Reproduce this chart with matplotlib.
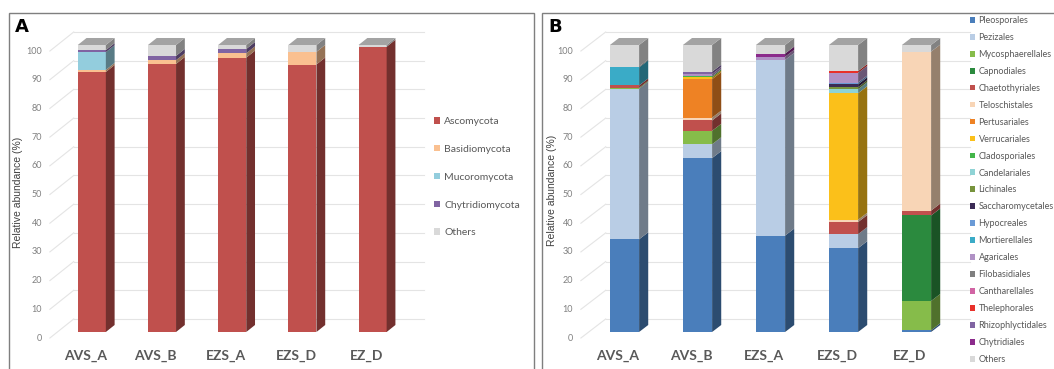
import numpy as np
import matplotlib.pyplot as plt
from matplotlib.patches import Polygon, Rectangle, Patch
from matplotlib.colors import to_rgb

samples = ['AVS_A', 'AVS_B', 'EZS_A', 'EZS_D', 'EZ_D']

# panel A - phylum level
phyla = ['Ascomycota', 'Basidiomycota', 'Mucoromycota', 'Chytridiomycota', 'Others']
ascomycota = [90.6, 93.4, 95.6, 93.2, 99.4]
basidiomycota = [0.7, 1.3, 1.5, 4.4, 0.0]
mucoromycota = [6.2, 0.0, 0.0, 0.0, 0.0]
chytridiomycota = [0.7, 1.5, 1.5, 0.0, 0.0]
others_a = [1.8, 3.8, 1.4, 2.4, 0.6]
phyla_colors = ['#c0504d', '#fac090', '#93cddd', '#8064a2', '#d9d9d9']

# panel B - order level
orders = ['Pleosporales', 'Pezizales', 'Mycosphaerellales', 'Capnodiales', 'Chaetothyriales',
          'Teloschistales', 'Pertusariales', 'Verrucariales', 'Cladosporiales', 'Candelariales',
          'Lichinales', 'Saccharomycetales', 'Hypocreales', 'Mortierellales', 'Agaricales',
          'Filobasidiales', 'Cantharellales', 'Thelephorales', 'Rhizophlyctidales', 'Chytridiales',
          'Others']
pleosporales = [32.3, 60.6, 33.6, 29.2, 0.6]
pezizales = [52.5, 4.8, 61.2, 4.9, 0.0]
mycosphaerellales = [0.3, 4.7, 0.0, 0.0, 10.2]
capnodiales = [0.0, 0.0, 0.0, 0.0, 29.8]
chaetothyriales = [0.8, 3.6, 0.0, 4.2, 1.7]
teloschistales = [0.0, 1.0, 0.0, 0.8, 55.4]
pertusariales = [0.0, 13.4, 0.0, 0.0, 0.0]
verrucariales = [0.0, 0.6, 0.0, 44.1, 0.0]
cladosporiales = [0.0, 0.4, 0.0, 0.0, 0.0]
candelariales = [0.0, 0.0, 0.0, 1.4, 0.0]
lichinales = [0.0, 0.0, 0.0, 0.7, 0.0]
saccharomycetales = [0.0, 0.0, 0.0, 1.0, 0.0]
hypocreales = [0.0, 0.0, 0.0, 0.6, 0.0]
mortierellales = [6.3, 0.0, 0.0, 0.0, 0.0]
agaricales = [0.0, 0.8, 1.1, 3.4, 0.0]
filobasidiales = [0.3, 0.0, 0.0, 0.0, 0.0]
cantharellales = [0.0, 0.0, 0.0, 0.0, 0.0]
thelephorales = [0.0, 0.0, 0.0, 0.6, 0.0]
rhizophlyctidales = [0.0, 0.8, 0.0, 0.0, 0.0]
chytridiales = [0.0, 0.0, 1.1, 0.0, 0.0]
others_b = [7.5, 9.3, 3.0, 9.1, 2.3]
order_colors = ['#4a7ebb', '#b9cde5', '#86bc4a', '#2b8a3e', '#c0504d',
                '#f8d5b6', '#ee8224', '#fbc01a', '#43b649', '#8fd3d5',
                '#77933c', '#3b2a55', '#6a9ad6', '#3aabc7', '#b091c5',
                '#7f7f7f', '#d164a4', '#e8312a', '#8064a2', '#8b2a8b',
                '#d9d9d9']

W, H = 1054, 369
fig = plt.figure(figsize=(W / 100, H / 100), dpi=100)

# fake 3D geometry (category / percent units)
kx, ky = 0.125, 2.44
bar_w = 0.40
x_left0 = -0.49
d_front, d_back = -0.86, 1.86
x_right_back = 4.73
xlim = (-1.2, 4.9)
ylim = (-12, 106)
px_per_pct = 2.87
y0_px = 332


def dark(c, f=0.6):
    r, g, b = to_rgb(c)
    return (r * f, g * f, b * f)


def draw_panel(x0_px, px_per_cat, series, colors, tick_x_px):
    left = x0_px + xlim[0] * px_per_cat
    right = x0_px + xlim[1] * px_per_cat
    top = y0_px - ylim[1] * px_per_pct
    bottom = y0_px - ylim[0] * px_per_pct
    ax = fig.add_axes([left / W, (H - bottom) / H, (right - left) / W, (bottom - top) / H])
    ax.set_xlim(*xlim)
    ax.set_ylim(*ylim)
    ax.axis('off')

    # gridlines: back wall + side wall diagonals
    xb = x_left0 + d_back * kx
    xf = x_left0 + d_front * kx
    x_tick = (tick_x_px - x0_px) / px_per_cat
    for v in range(0, 101, 10):
        ax.plot([xb, x_right_back], [v + d_back * ky] * 2, color='#e4e4e4', lw=0.8, zorder=1)
        ax.plot([xf, xb], [v + d_front * ky, v + d_back * ky], color='#e4e4e4', lw=0.8, zorder=1)
        ax.text(x_tick, v + d_front * ky, str(v),
                ha='right', va='center', fontsize=6.5, color='#808080', family='Lato')

    x = np.arange(len(samples))
    base = np.zeros(len(samples))
    for vals, col in zip(series, colors):
        vals = np.array(vals)
        ax.bar(x, vals, width=bar_w, bottom=base, color=col, zorder=3, linewidth=0)
        for i in range(len(samples)):
            if vals[i] <= 0:
                continue
            xr = x[i] + bar_w / 2
            b, t = base[i], base[i] + vals[i]
            ax.add_patch(Polygon([(xr, b), (xr + kx, b + ky), (xr + kx, t + ky), (xr, t)],
                                 closed=True, facecolor=dark(col), edgecolor='none', zorder=3))
        base = base + vals
    for i in range(len(samples)):
        xl, xr, t = x[i] - bar_w / 2, x[i] + bar_w / 2, base[i]
        ax.add_patch(Polygon([(xl, t), (xr, t), (xr + kx, t + ky), (xl + kx, t + ky)],
                             closed=True, facecolor='#a3a3a3', edgecolor='none', zorder=3))
        ax.text(x[i] - 0.09, -8.4, samples[i], ha='center', va='center', fontsize=10,
                fontweight='bold', color='#595959', family='Lato')
    return ax


ax_a = draw_panel(91.8, 70.2, [ascomycota, basidiomycota, mucoromycota, chytridiomycota, others_a],
                  phyla_colors, 42)
ax_b = draw_panel(624.5, 73.0,
                  [pleosporales, pezizales, mycosphaerellales, capnodiales, chaetothyriales,
                   teloschistales, pertusariales, verrucariales, cladosporiales, candelariales,
                   lichinales, saccharomycetales, hypocreales, mortierellales, agaricales,
                   filobasidiales, cantharellales, thelephorales, rhizophlyctidales, chytridiales,
                   others_b],
                  order_colors, 573)

# panel frames, letters, y labels
for x0, x1 in [(9, 534), (542, 1060)]:
    fig.patches.append(Rectangle((x0 / W, -0.05), (x1 - x0) / W, (H - 13) / H + 0.05,
                                 transform=fig.transFigure, fill=False, edgecolor='#7f7f7f', lw=1))
fig.text(15 / W, 1 - 27 / H, 'A', fontsize=13, fontweight='bold', va='center', ha='left')
fig.text(548 / W, 1 - 27 / H, 'B', fontsize=13, fontweight='bold', va='center', ha='left')
fig.text(18 / W, 1 - 192 / H, 'Relative abundance (%)', rotation=90, fontsize=7.5,
         color='#404040', va='center', ha='center', family='Liberation Sans')
fig.text(552 / W, 1 - 190 / H, 'Relative abundance (%)', rotation=90, fontsize=7.5,
         color='#404040', va='center', ha='center', family='Liberation Sans')

# legends
h_a = [Patch(facecolor=c, edgecolor='none') for c in phyla_colors]
fig.legend(h_a, phyla, loc='upper left', bbox_to_anchor=(434 / W, 1 - 117 / H), frameon=False,
           labelspacing=1.81, handlelength=0.6, handleheight=0.6,
           handletextpad=0.4, borderpad=0, borderaxespad=0, labelcolor='#595959',
           prop={'family': 'Lato', 'size': 7.5})
h_b = [Patch(facecolor=c, edgecolor='none') for c in order_colors]
fig.legend(h_b, orders, loc='upper left', bbox_to_anchor=(970 / W, 1 - 16 / H), frameon=False,
           labelspacing=0.88, handlelength=0.6, handleheight=0.6,
           handletextpad=0.35, borderpad=0, borderaxespad=0, labelcolor='#595959',
           prop={'family': 'Lato', 'size': 6.5})

plt.savefig('out.png', dpi=100, facecolor='white')
plt.close()
